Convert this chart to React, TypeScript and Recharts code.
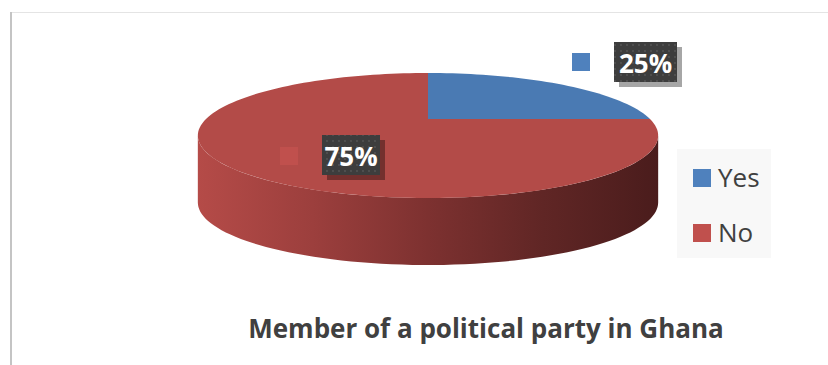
import { PieChart, Pie, Cell, Legend } from 'recharts'

const categories = ['Yes', 'No']
const shares = [25, 75]
const topColors = ['#4a7ab3', '#b34b48']
const keyColors = ['#4f81bd', '#c0504d']
const chartTitle = 'Member of a political party in Ghana'

const data = categories.map((name, i) => ({ name, value: shares[i] }))

// fake 3D: perspective tilt + wall depth
const TILT = 0.264
const FLAT = 0.262
const DEPTH = 67
const FONT = "'Open Sans', sans-serif"

// label placement relative to pie centre (Excel puts small slice outside)
const LABEL_SPOTS = [
  { keyX: 144, keyY: -66, boxX: 186, boxY: -77, boxW: 63 },
  { keyX: -148, keyY: 28, boxX: -106, boxY: 16, boxW: 58 }
]

const proj = (cx: number, cy: number, R: number, deg: number) => {
  const t = (deg * Math.PI) / 180
  const u = Math.cos(t)
  const w = Math.sin(t)
  const k = 1 / (1 + TILT * w)
  return [cx + R * u * k, cy - R * FLAT * w * k]
}

const arcPoints = (cx: number, cy: number, R: number, from: number, to: number, dy = 0) => {
  const n = Math.max(8, Math.ceil(Math.abs(to - from) / 2))
  const pts: string[] = []
  for (let i = 0; i <= n; i++) {
    const [x, y] = proj(cx, cy, R, from + ((to - from) * i) / n)
    pts.push(`${x.toFixed(2)},${(y + dy).toFixed(2)}`)
  }
  return pts
}

const Slice3D = (props: any) => {
  const { cx, cy, outerRadius, startAngle, endAngle, index } = props
  const R = outerRadius
  const lo = Math.min(startAngle, endAngle)
  const hi = Math.max(startAngle, endAngle)
  const edge = (Math.asin(TILT) * 180) / Math.PI
  const visLo = 180 + edge
  const visHi = 360 - edge
  const walls: string[] = []
  for (const shift of [-360, 0, 360]) {
    const a = Math.max(lo + shift, visLo)
    const b = Math.min(hi + shift, visHi)
    if (b > a) {
      const top = arcPoints(cx, cy, R, a, b)
      const bottom = arcPoints(cx, cy, R, b, a, DEPTH)
      walls.push(`M${top.join('L')}L${bottom.join('L')}Z`)
    }
  }
  const topPts = arcPoints(cx, cy, R, startAngle, endAngle)
  const gid = `wall-${index}`
  return (
    <g>
      <defs>
        <linearGradient id={gid} gradientUnits="userSpaceOnUse" x1={cx - R * 1.04} x2={cx + R * 1.04} y1={0} y2={0}>
          <stop offset="0" stopColor="#b54b48" />
          <stop offset="0.25" stopColor="#9c3f3d" />
          <stop offset="0.5" stopColor="#7d3130" />
          <stop offset="0.75" stopColor="#602625" />
          <stop offset="1" stopColor="#4a1c1c" />
        </linearGradient>
      </defs>
      {walls.map((d, i) => (
        <path key={i} d={d} fill={`url(#${gid})`} />
      ))}
      <path d={`M${cx},${cy}L${topPts.join('L')}Z`} fill={topColors[index]} />
    </g>
  )
}

const renderLabel = (props: any) => {
  const { cx, cy, index, percent } = props
  const s = LABEL_SPOTS[index]
  const bx = cx + s.boxX
  const by = cy + s.boxY
  return (
    <g key={`lbl-${index}`}>
      <defs>
        <pattern id={`dots-${index}`} width="6" height="6" patternUnits="userSpaceOnUse">
          <circle cx="3" cy="3" r="0.9" fill="#565656" />
        </pattern>
      </defs>
      <rect x={cx + s.keyX} y={cy + s.keyY} width={18} height={18} fill={keyColors[index]} />
      <rect x={bx + 5} y={by + 5} width={s.boxW} height={40} fill="#000" fillOpacity={0.35} />
      <rect x={bx} y={by} width={s.boxW} height={40} fill="#3d3d3d" />
      <rect x={bx} y={by} width={s.boxW} height={40} fill={`url(#dots-${index})`} />
      <text
        x={bx + s.boxW / 2}
        y={by + 21}
        textAnchor="middle"
        dominantBaseline="central"
        fill="#fff"
        fontFamily={FONT}
        fontWeight={700}
        fontSize={26}
      >
        {`${Math.round(percent * 100)}%`}
      </text>
    </g>
  )
}

const renderLegend = () => (
  <div style={{ position: 'relative', width: 94, height: 109, background: '#f8f8f8' }}>
    {categories.map((name, i) => (
      <div key={name} style={{ position: 'absolute', left: 16, top: 20 + i * 55, height: 18 }}>
        <div style={{ position: 'absolute', left: 0, top: 0, width: 18, height: 18, background: keyColors[i] }} />
        <div
          style={{
            position: 'absolute',
            left: 25,
            top: -9,
            fontFamily: FONT,
            fontSize: 26,
            lineHeight: '34px',
            color: '#404040',
            whiteSpace: 'nowrap'
          }}
        >
          {name}
        </div>
      </div>
    ))}
  </div>
)

export default function App() {
  return (
    <div style={{ position: 'absolute', left: 0, top: 0, width: 828, height: 365, background: '#fff', overflow: 'hidden' }}>
      <div style={{ position: 'absolute', left: 11, top: 12, width: 817, height: 1, background: '#e4e4e4' }} />
      <div style={{ position: 'absolute', left: 10, top: 12, width: 2, height: 353, background: '#c4c4c4' }} />
      <PieChart
        width={828}
        height={365}
        margin={{ top: 0, right: 0, bottom: 0, left: 0 }}
        style={{ position: 'absolute', left: 0, top: 0 }}
      >
        <Pie
          data={data}
          dataKey="value"
          nameKey="name"
          cx={428}
          cy={119}
          outerRadius={222}
          startAngle={90}
          endAngle={-270}
          stroke="none"
          labelLine={false}
          label={renderLabel}
          shape={Slice3D}
          activeShape={Slice3D}
          inactiveShape={Slice3D}
          isAnimationActive={false}
        >
          {data.map((entry, i) => (
            <Cell key={`cell-${entry.name}`} fill={topColors[i]} />
          ))}
        </Pie>
        <Legend
          layout="vertical"
          content={renderLegend}
          wrapperStyle={{ position: 'absolute', left: 677, top: 149, width: 94, height: 109, bottom: 'auto', right: 'auto' }}
        />
      </PieChart>
      <div
        style={{
          position: 'absolute',
          left: 0,
          top: 315,
          width: 972,
          textAlign: 'center',
          fontFamily: FONT,
          fontWeight: 700,
          fontSize: 26,
          lineHeight: '26px',
          color: '#404040',
          whiteSpace: 'nowrap'
        }}
      >
        {chartTitle}
      </div>
    </div>
  )
}
